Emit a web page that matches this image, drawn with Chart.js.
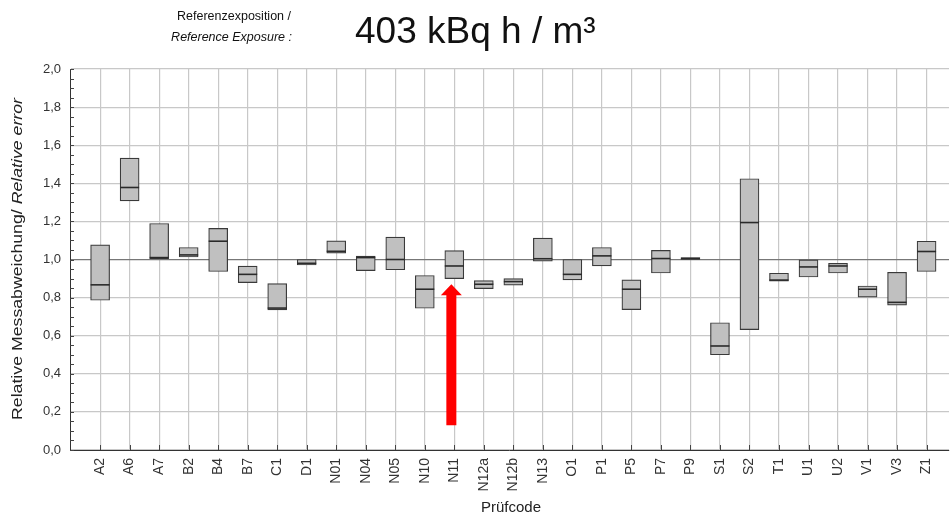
<!DOCTYPE html>
<html>
<head>
<meta charset="utf-8">
<script src="https://cdn.jsdelivr.net/npm/chart.js@4/dist/chart.umd.min.js"></script>
<style>
  html, body { margin: 0; padding: 0; background: #fff; }
  #wrap { position: relative; width: 950px; height: 516px; }
</style>
</head>
<body>
<div id="wrap"><canvas id="chart" width="950" height="516"></canvas></div>
<script>
// Prüfcodes (Kategorien)
const codes = ['A2','A6','A7','B2','B4','B7','C1','D1','N01','N04','N05','N10','N11','N12a','N12b',
               'N13','O1','P1','P5','P7','P9','S1','S2','T1','U1','U2','V1','V3','Z1'];
// untere / obere Kante der Boxen und Median (relative Abweichung)
const lowVals = [0.786,1.308,1.005,1.013,0.937,0.879,0.735,0.971,1.033,0.942,0.946,0.744,0.900,0.847,0.865,
                 0.991,0.893,0.966,0.737,0.929,1.000,0.500,0.632,0.886,0.908,0.929,0.802,0.760,0.937];
const highVals = [1.077,1.532,1.189,1.063,1.163,0.965,0.873,1.000,1.098,1.018,1.118,0.916,1.047,0.889,0.900,
                  1.112,1.000,1.063,0.893,1.048,1.010,0.668,1.424,0.928,0.998,0.980,0.861,0.933,1.096];
const medVals = [0.867,1.378,1.010,1.024,1.096,0.922,0.745,0.980,1.043,1.010,1.000,0.844,0.966,0.870,0.884,
                 1.004,0.922,1.019,0.844,1.005,1.005,0.546,1.194,0.892,0.961,0.966,0.844,0.775,1.042];
const yTicks = [0, 0.2, 0.4, 0.6, 0.8, 1.0, 1.2, 1.4, 1.6, 1.8, 2.0];
// roter Pfeil auf N11 (x in Kategorie-Einheiten, y in Werten)
const arrow = { x: 11.9, from: 0.13, to: 0.87 };

const FONT = 'Liberation Sans, Arial, sans-serif';

// Titel, Achsentitel, innere Ticks, Pfeil
const extras = {
    id: 'extras',
    beforeDatasetsDraw(chart) {
        const { ctx, chartArea: a, scales: { x, y } } = chart;
        ctx.save();
        ctx.strokeStyle = '#444';
        ctx.lineWidth = 1;
        // kleine Ticks links alle 0,05
        for (let v = 0; v <= 2.0001; v += 0.05) {
            const py = Math.round(y.getPixelForValue(v)) + 0.5;
            ctx.beginPath();
            ctx.moveTo(a.left, py);
            ctx.lineTo(a.left + 4, py);
            ctx.stroke();
        }
        // Ticks unten
        codes.forEach((c, i) => {
            const px = Math.round(x.getPixelForValue(i)) + 0.5;
            ctx.beginPath();
            ctx.moveTo(px, a.bottom);
            ctx.lineTo(px, a.bottom - 5);
            ctx.stroke();
        });
        ctx.restore();
    },
    afterDraw(chart) {
        const { ctx, scales: { x, y } } = chart;
        ctx.save();
        // Pfeil
        const cx = x.getPixelForValue(arrow.x);
        const tip = y.getPixelForValue(arrow.to);
        const tail = y.getPixelForValue(arrow.from);
        ctx.fillStyle = '#ff0000';
        ctx.beginPath();
        ctx.moveTo(cx, tip);
        ctx.lineTo(cx + 10.5, tip + 11);
        ctx.lineTo(cx + 5, tip + 11);
        ctx.lineTo(cx + 5, tail);
        ctx.lineTo(cx - 5, tail);
        ctx.lineTo(cx - 5, tip + 11);
        ctx.lineTo(cx - 10.5, tip + 11);
        ctx.closePath();
        ctx.fill();

        // Kopfzeile
        ctx.fillStyle = '#111';
        ctx.textBaseline = 'middle';
        ctx.textAlign = 'right';
        ctx.font = '12.5px ' + FONT;
        ctx.fillText('Referenzexposition /', 291, 17);
        ctx.font = 'italic 12.5px ' + FONT;
        ctx.fillText('Reference Exposure :', 292, 38);
        ctx.textAlign = 'left';
        ctx.textBaseline = 'alphabetic';
        ctx.font = '37px ' + FONT;
        ctx.fillText('403 kBq h / m³', 355, 43);

        // x-Achsentitel
        ctx.fillStyle = '#222';
        ctx.textAlign = 'center';
        ctx.textBaseline = 'middle';
        ctx.font = '15px ' + FONT;
        ctx.fillText('Prüfcode', 511, 508);

        // y-Achsentitel (gemischt normal / kursiv)
        ctx.translate(18, 259);
        ctx.rotate(-Math.PI / 2);
        const p1 = 'Relative Messabweichung/ ', p2 = 'Relative error';
        ctx.font = '15.5px ' + FONT;
        const w1 = ctx.measureText(p1).width;
        ctx.font = 'italic 15.5px ' + FONT;
        const w2 = ctx.measureText(p2).width;
        const sx = 322 / (w1 + w2);
        ctx.scale(sx, 1);
        ctx.textAlign = 'left';
        const start = -(w1 + w2) / 2;
        ctx.font = '15.5px ' + FONT;
        ctx.fillText(p1, start, 0);
        ctx.font = 'italic 15.5px ' + FONT;
        ctx.fillText(p2, start + w1, 0);
        ctx.restore();
    }
};

const ctx = document.getElementById('chart').getContext('2d');
const chart = new Chart(ctx, {
    data: {
        datasets: [
            {
                type: 'scatter',
                label: 'Median',
                data: codes.map((c, i) => ({ x: i, y: medVals[i] })),
                pointStyle: 'line',
                pointRadius: 9.5,
                pointHoverRadius: 9.5,
                pointBorderColor: '#2a2a2a',
                pointBorderWidth: 1.6,
                clip: false,
                order: 0
            },
            {
                type: 'bar',
                label: 'Bereich',
                data: codes.map((c, i) => ({ x: i, y: [lowVals[i], highVals[i]] })),
                backgroundColor: '#c0c0c0',
                borderColor: '#3a3a3a',
                borderWidth: 1.2,
                borderSkipped: false,
                barThickness: 19,
                order: 1
            }
        ]
    },
    options: {
        responsive: false,
        animation: false,
        events: [],
        layout: { autoPadding: false, padding: { left: 0, top: 69, right: 1, bottom: 0 } },
        plugins: { legend: { display: false }, tooltip: { enabled: false }, title: { display: false } },
        scales: {
            x: {
                type: 'linear',
                offset: false,
                min: -1.02,
                max: 28.76,
                afterBuildTicks: s => { s.ticks = codes.map((c, i) => ({ value: i })); },
                afterFit: s => { s.height = 66; s.paddingLeft = 0; s.paddingRight = 0; },
                grid: { color: '#c8c8c8', lineWidth: 1.2, drawTicks: false, offset: false },
                border: { color: '#333', width: 1 },
                ticks: {
                    autoSkip: false,
                    minRotation: 90,
                    maxRotation: 90,
                    padding: 8,
                    color: '#333',
                    font: { family: FONT, size: 14 },
                    callback: v => codes[v] ?? ''
                }
            },
            y: {
                min: 0,
                max: 2,
                afterBuildTicks: s => { s.ticks = yTicks.map(v => ({ value: v })); },
                afterFit: s => { s.width = 70; },
                grid: {
                    color: c => (c.tick && Math.abs(c.tick.value - 1) < 1e-6) ? '#777' : '#c8c8c8',
                    lineWidth: 1.2,
                    drawTicks: false
                },
                border: { color: '#333', width: 1 },
                ticks: {
                    padding: 9,
                    color: '#333',
                    font: { family: FONT, size: 13 },
                    callback: v => v.toFixed(1).replace('.', ',')
                }
            }
        }
    },
    plugins: [extras]
});
</script>
</body>
</html>
